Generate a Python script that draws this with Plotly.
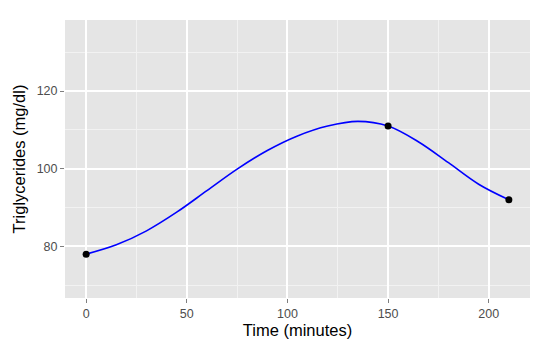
import plotly.graph_objects as go

# Measured points
time_pts = [0, 150, 210]
trig_pts = [78, 111, 92]

# Smooth curve values
curve_time = [0, 15, 30, 45, 60, 75, 90, 105, 120, 135, 150, 165, 180, 195, 210]
curve_trig = [78, 80.4, 84.0, 88.8, 94.35, 99.9, 104.7, 108.45, 111.0, 112.2, 111.0, 106.95, 101.55, 96.0, 92]

x_ticks = [0, 50, 100, 150, 200]
y_ticks = [80, 100, 120]

FONT = "Liberation Sans, Arial, Helvetica, sans-serif"

fig = go.Figure()
fig.add_trace(go.Scatter(x=curve_time, y=curve_trig, mode="lines",
                         line=dict(color="#0000FF", width=1.6, shape="spline", smoothing=1.0),
                         hoverinfo="skip", showlegend=False))
fig.add_trace(go.Scatter(x=time_pts, y=trig_pts, mode="markers",
                         marker=dict(color="black", size=7),
                         showlegend=False))

axis_common = dict(
    showline=False, zeroline=False,
    gridcolor="white", gridwidth=1.6,
    ticks="outside", ticklen=4, tickwidth=1, tickcolor="#7F7F7F",
    tickfont=dict(family=FONT, size=12.5, color="#4D4D4D"),
)

fig.update_layout(
    width=550, height=350,
    margin=dict(l=65, r=20, t=20, b=52),
    paper_bgcolor="white", plot_bgcolor="#E5E5E5",
    font=dict(family=FONT),
    xaxis=dict(range=[-10.5, 220.5], tickvals=x_ticks,
               title=dict(text="Time (minutes)", font=dict(family=FONT, size=16.5, color="black"), standoff=4),
               minor=dict(dtick=25, tick0=25, showgrid=True, gridcolor="#F2F2F2", gridwidth=0.8, ticks=""),
               **axis_common),
    yaxis=dict(range=[66.7, 138.3], tickvals=y_ticks,
               title=dict(text="Triglycerides (mg/dl)", font=dict(family=FONT, size=16.5, color="black"), standoff=6),
               minor=dict(dtick=20, tick0=70, showgrid=True, gridcolor="#F2F2F2", gridwidth=0.8, ticks=""),
               **axis_common),
)

fig.write_html("out.html")
